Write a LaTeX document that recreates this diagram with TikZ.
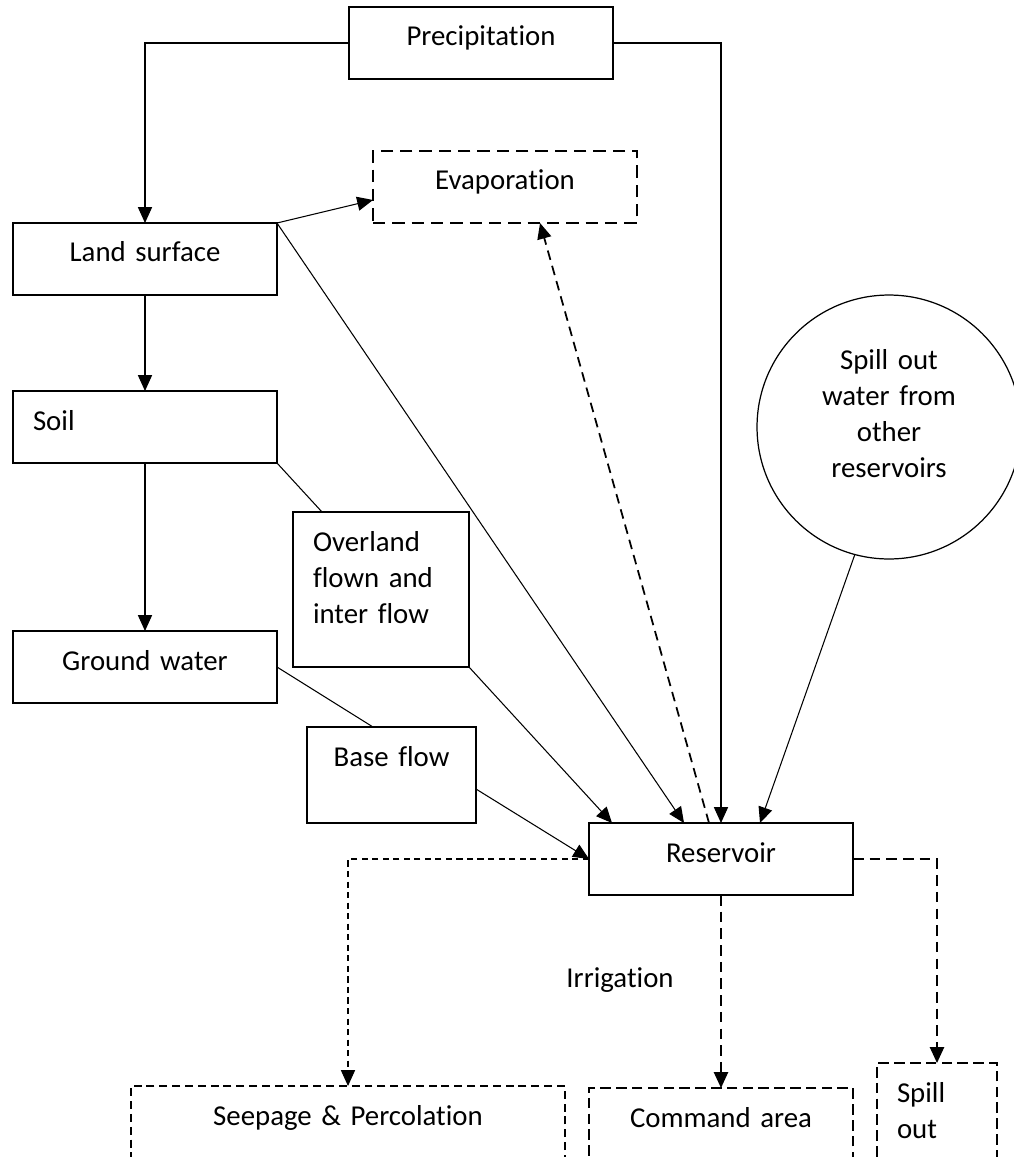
\documentclass[tikz,border=0pt]{standalone}
\usepackage{fontspec}
\setmainfont{Carlito}[Ligatures={NoCommon}]
\usepackage{tikz}
\usetikzlibrary{arrows.meta,calc,positioning}
\tikzset{
  wbox/.style = {draw, rectangle, line width=.75pt, anchor=north, outer sep=0pt,
  inner ysep=0pt, text height=.78cm, font=\fontsize{16.4}{20.5}\selectfont},
  box_c/.style = {wbox, inner xsep=0pt, align=center},
  box_l/.style = {wbox, inner xsep=.4cm, align=left}
}

\begin{document}
\begin{tikzpicture}[->,>={Triangle[length=9pt,width=8pt]}, x=0.02cm, y=-0.02cm,
    line width=.6pt,
    evap_b/.style={dash pattern=on 7pt off 4pt, line width=1.1pt},
    seep_b/.style={dash pattern=on 4.5pt off 2.8pt, line width=.8pt},
    cmd_b/.style={dash pattern=on 6pt off 3pt, line width=1.1pt},
    evap_l/.style={dash pattern=on 5.5pt off 3.5pt, line width=1pt},
    seep_l/.style={dash pattern=on 3.5pt off 2.5pt, line width=.6pt},
    cmd_l/.style={dash pattern=on 6pt off 3.5pt, line width=1.1pt}]
    \clip (0,0) rectangle (1014,1157);
    % boxes
    \node [box_c, text width=5.28cm, text depth=.66cm] (prec) at (481,7) {Precipitation};
    \node [box_c, evap_b, text width=5.28cm, text depth=.66cm] (evap) at (505,151) {Evaporation};
    \node [box_c, text width=5.28cm, text depth=.66cm] (land) at (145,223) {Land surface};
    \node [box_l, text width=4.48cm, text depth=.66cm] (soil) at (145,391) {Soil};
    \node [box_c, text width=5.28cm, text depth=.66cm] (ground) at (145,631) {Ground water};
    \node [box_l, text width=2.72cm, text depth=2.32cm] (over) at (381,512) {Overland\\ flown and\\ inter flow};
    \node [box_c, text width=3.38cm, text depth=1.14cm] (base) at (391.5,727) {Base flow};
    \node [box_c, text width=5.28cm, text depth=.66cm] (res) at (721,823) {Reservoir};
    \node [draw, circle, line width=.7pt, minimum size=5.28cm, inner sep=0pt, outer sep=0pt,
      text width=4cm, align=center, text height=.4cm, text depth=2.72cm,
      font=\fontsize{16.4}{20.5}\selectfont] (others) at (889,427)
      {Spill out\\ water from\\ other\\ reservoirs};
    \node [box_c, seep_b, text width=8.68cm, text depth=.8cm] (seep) at (348,1086) {Seepage \& Percolation};
    \node [box_c, cmd_b, text width=5.28cm, text depth=.8cm] (cmd) at (721,1088) {Command area};
    \node [box_l, cmd_b, text width=1.6cm, text depth=1.3cm] (spill) at (937,1063) {Spill\\ out};
    \node [anchor=base, font=\fontsize{16.4}{20.5}\selectfont] (irrig) at (620,987) {Irrigation};
    % inflows
    \draw (prec.west) -| (land.north);
    \draw (prec.east) -| (res.north);
    \draw (land.north east) -- ($(evap.south west)+(0,-23)$);
    \draw (land.north east) -- ($(res.north west)+(95,0)$);
    \draw (land.south) -- (soil.north);
    \draw (soil.south) -- (ground.north);
    \draw[-] (soil.south east) -- ($(over.north west)+(29,0)$);
    \draw (over.south east) -- ($(res.north west)+(23,0)$);
    \draw[-] (ground.east) -- ($(base.north west)+(66,0)$);
    \draw ($(base.north east)+(0,62)$) -- (res.west);
    \draw (others.255) -- ($(res.north west)+(171,0)$);
    % losses
    \draw[evap_l] ($(res.north west)+(120,0)$) -- ($(evap.south west)+(167,0)$);
    \draw[seep_l] (res.west) -| (seep.north);
    \draw[cmd_l] (res.south) -- (cmd.north);
    \draw[cmd_l] (res.east) -| (spill.north);
\end{tikzpicture}
\end{document}
